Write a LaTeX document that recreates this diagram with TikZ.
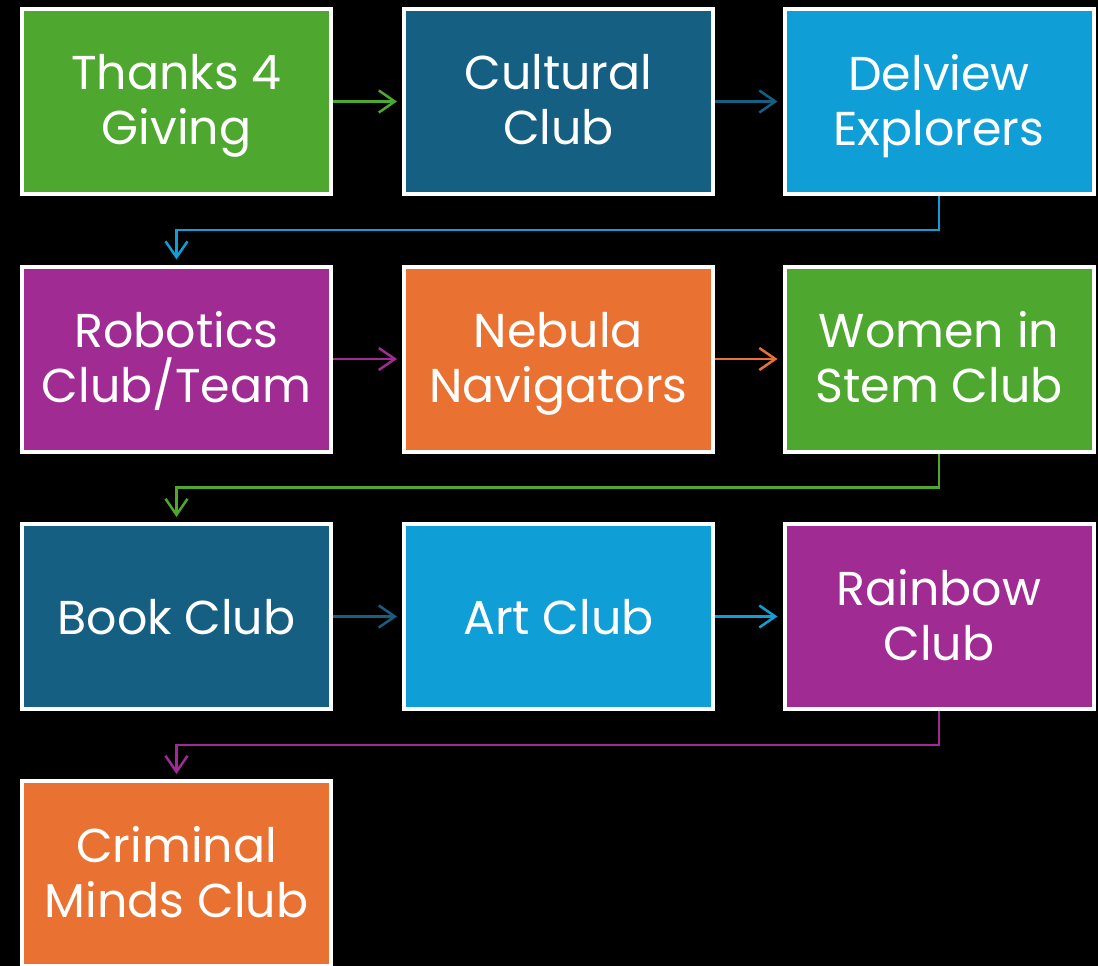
\documentclass[tikz,border=0pt]{standalone}
\usepackage{fontspec}
\setmainfont{Poppins}
\usetikzlibrary{arrows.meta}
\definecolor{cgreen}{HTML}{4EA72E}
\definecolor{cteal}{HTML}{156082}
\definecolor{cblue}{HTML}{0F9ED5}
\definecolor{cpurple}{HTML}{A02B93}
\definecolor{corange}{HTML}{E97132}
\tikzset{
  box/.style={draw=white, line width=4pt, minimum width=309pt, minimum height=185pt,
    inner sep=0pt, text=white, align=center, font=\fontsize{47.5}{55}\selectfont,
    execute at begin node={\rule{0pt}{40pt}}, execute at end node={\rule[-4pt]{0pt}{4pt}}},
  conn/.style={line width=2.5pt, -{Straight Barb[length=16pt,width=22pt,line width=2.5pt]}, shorten >=5pt},
}
\begin{document}
\begin{tikzpicture}[x=1pt,y=-1pt]
\fill[black] (0,0) rectangle (1098,966);
\useasboundingbox (0,0) rectangle (1098,966);
\node[box, fill=cgreen]   (a) at (176.5,101.5) {Thanks 4\\\smash{Giving}};
\node[box, fill=cteal]    (b) at (558.5,101.5) {Cultural\\\smash{Club}};
\node[box, fill=cblue]    (c) at (939,101.5)   {Delview\\\smash{Explorers}};
\node[box, fill=cpurple]  (d) at (176.5,359)   {Robotics\\\smash{Club/Team}};
\node[box, fill=corange]  (e) at (558.5,359)   {Nebula\\\smash{Navigators}};
\node[box, fill=cgreen]   (f) at (939,359)     {Women in\\\smash{Stem Club}};
\node[box, fill=cteal]    (g) at (176.5,616.5) {Book Club};
\node[box, fill=cblue]    (h) at (558.5,616.5) {Art Club};
\node[box, fill=cpurple]  (i) at (939,616.5)   {Rainbow\\\smash{Club}};
\node[box, fill=corange]  (j) at (176.5,873.5) {Criminal\\\smash{Minds Club}};
\draw[conn, cgreen]  (a) -- (b);
\draw[conn, cteal]   (b) -- (c);
\draw[conn, cpurple] (d) -- (e);
\draw[conn, corange] (e) -- (f);
\draw[conn, cteal]   (g) -- (h);
\draw[conn, cblue]   (h) -- (i);
\draw[conn, cblue]   (c.south) -- ++(0,34) -| (d.north);
\draw[conn, cgreen]  (f.south) -- ++(0,34) -| (g.north);
\draw[conn, cpurple] (i.south) -- ++(0,34) -| (j.north);
\end{tikzpicture}
\end{document}
